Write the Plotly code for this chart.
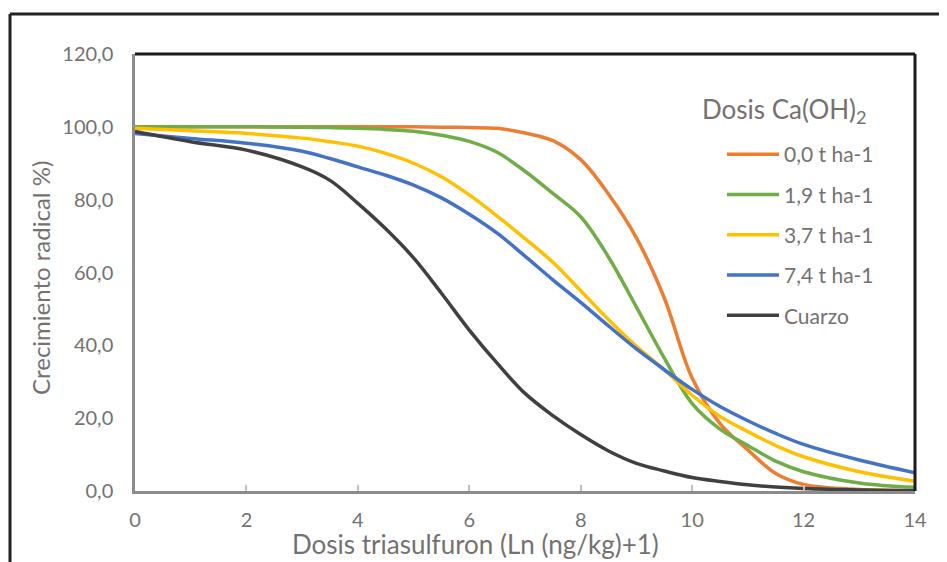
import plotly.graph_objects as go

x_dose = [0, 1, 2, 3, 3.5, 4, 4.5, 5, 5.5, 6, 6.5, 7, 7.5, 8, 8.5, 9, 9.5, 10, 10.5, 11, 11.5, 12, 13, 14]

y_00 = [100, 100, 100, 100, 100, 100, 100, 100, 99.9, 99.8, 99.6, 98.3, 96.2, 91, 81.5, 69.5, 53, 31, 18.5, 11.3, 4.8, 1.8, 0.4, 0.1]
y_19 = [100, 100, 100, 99.9, 99.8, 99.6, 99.3, 98.8, 97.7, 96, 93, 87.8, 81.7, 75.3, 64.2, 50.5, 36.5, 24, 17, 12.5, 8.2, 5.3, 2.2, 1.0]
y_37 = [99.6, 98.9, 98.2, 96.9, 95.9, 94.7, 92.7, 90, 86.3, 81.3, 75.5, 69.3, 62.8, 55, 47, 39.7, 33.3, 26.3, 20.5, 16.3, 12.5, 9.4, 5.3, 2.7]
y_74 = [98.2, 96.8, 95.5, 93.3, 91.3, 89.0, 86.7, 84.0, 80.5, 76.0, 70.8, 64.5, 58.0, 51.8, 45.3, 39, 33.3, 27.9, 23.2, 19.3, 15.8, 12.8, 8.5, 5.0]
y_cz = [98.7, 95.9, 93.6, 89, 85.3, 79, 72, 64, 54.3, 44.2, 35.1, 26.8, 20.7, 15.5, 11, 7.6, 5.5, 3.7, 2.6, 1.7, 1.1, 0.7, 0.3, 0.1]

series_names = ["0,0 t ha-1", "1,9 t ha-1", "3,7 t ha-1", "7,4 t ha-1", "Cuarzo"]
series_values = [y_00, y_19, y_37, y_74, y_cz]
series_colors = ["#ED7D31", "#70AD47", "#FFC000", "#4472C4", "#404040"]

x_ticks = [0, 2, 4, 6, 8, 10, 12, 14]
y_ticks = [0, 20, 40, 60, 80, 100, 120]

legend_title = "Dosis Ca(OH)<sub>2</sub>"
x_title = "Dosis triasulfuron (Ln (ng/kg)+1)"
y_title = "Crecimiento radical %)"

FONT = "Lato"
GRAY = "#757171"

# plot area in reference pixel terms: left 135, right 915, top 54, bottom 491
def px(xp):
    return (xp - 135) / 780

def py(yp):
    return (491 - yp) / 437

fig = go.Figure()
for i, (name, vals, col) in enumerate(zip(series_names, series_values, series_colors)):
    fig.add_trace(go.Scatter(
        x=x_dose, y=vals, name=name, mode="lines",
        line=dict(color=col, width=3.5, shape="spline", smoothing=1.0),
        legendgroup=f"g{i}",
    ))

fig.update_layout(
    width=939, height=554,
    margin=dict(l=127, r=32, t=46, b=71, pad=0),
    paper_bgcolor="white", plot_bgcolor="white",
    separators=",.",
    font=dict(family=FONT, color=GRAY, size=20),
    showlegend=True,
    legend=dict(
        x=px(722), y=py(134), xanchor="left", yanchor="top",
        font=dict(family=FONT, size=21, color=GRAY),
        bgcolor="rgba(0,0,0,0)", tracegroupgap=10,
        traceorder="grouped", itemwidth=52,
    ),
    xaxis=dict(
        range=[0, 14], tickvals=x_ticks, ticktext=[str(v) for v in x_ticks],
        showgrid=False, zeroline=False,
        showline=True, linecolor="#8c8c8c", linewidth=2.5,
        ticks="inside", ticklen=6, tickcolor="#bfbfbf", tickwidth=1.5,
        tickfont=dict(family=FONT, size=20, color=GRAY),
        ticklabelstandoff=9,
    ),
    yaxis=dict(
        range=[0, 120], tickvals=y_ticks, tickformat=".1f",
        showgrid=False, zeroline=False,
        showline=True, linecolor="#8c8c8c", linewidth=2.5,
        ticks="",
        tickfont=dict(family=FONT, size=20, color=GRAY),
        ticklabelstandoff=15,
    ),
    annotations=[
        dict(text=legend_title, xref="paper", yref="paper",
             x=px(700), y=py(110), xanchor="left", yanchor="middle",
             showarrow=False, font=dict(family=FONT, size=26, color=GRAY)),
        dict(text=x_title, xref="paper", yref="paper",
             x=px(475), y=py(544), xanchor="center", yanchor="middle",
             showarrow=False, font=dict(family=FONT, size=26, color=GRAY)),
        dict(text=y_title, xref="paper", yref="paper", textangle=-90,
             x=px(40), y=py(278), xanchor="center", yanchor="middle",
             showarrow=False, font=dict(family=FONT, size=24, color=GRAY)),
    ],
    shapes=[
        dict(type="line", xref="paper", yref="paper", x0=0, x1=1, y0=1, y1=1,
             line=dict(color="#1a1a1a", width=3)),
        dict(type="line", xref="paper", yref="paper", x0=1, x1=1, y0=0, y1=1,
             line=dict(color="#1a1a1a", width=3)),
        dict(type="line", xref="paper", yref="paper",
             x0=px(10), x1=px(960), y0=py(14), y1=py(14),
             line=dict(color="#222222", width=3)),
        dict(type="line", xref="paper", yref="paper",
             x0=px(10), x1=px(10), y0=py(14), y1=py(575),
             line=dict(color="#222222", width=3)),
    ],
)

fig.write_html("out.html")
